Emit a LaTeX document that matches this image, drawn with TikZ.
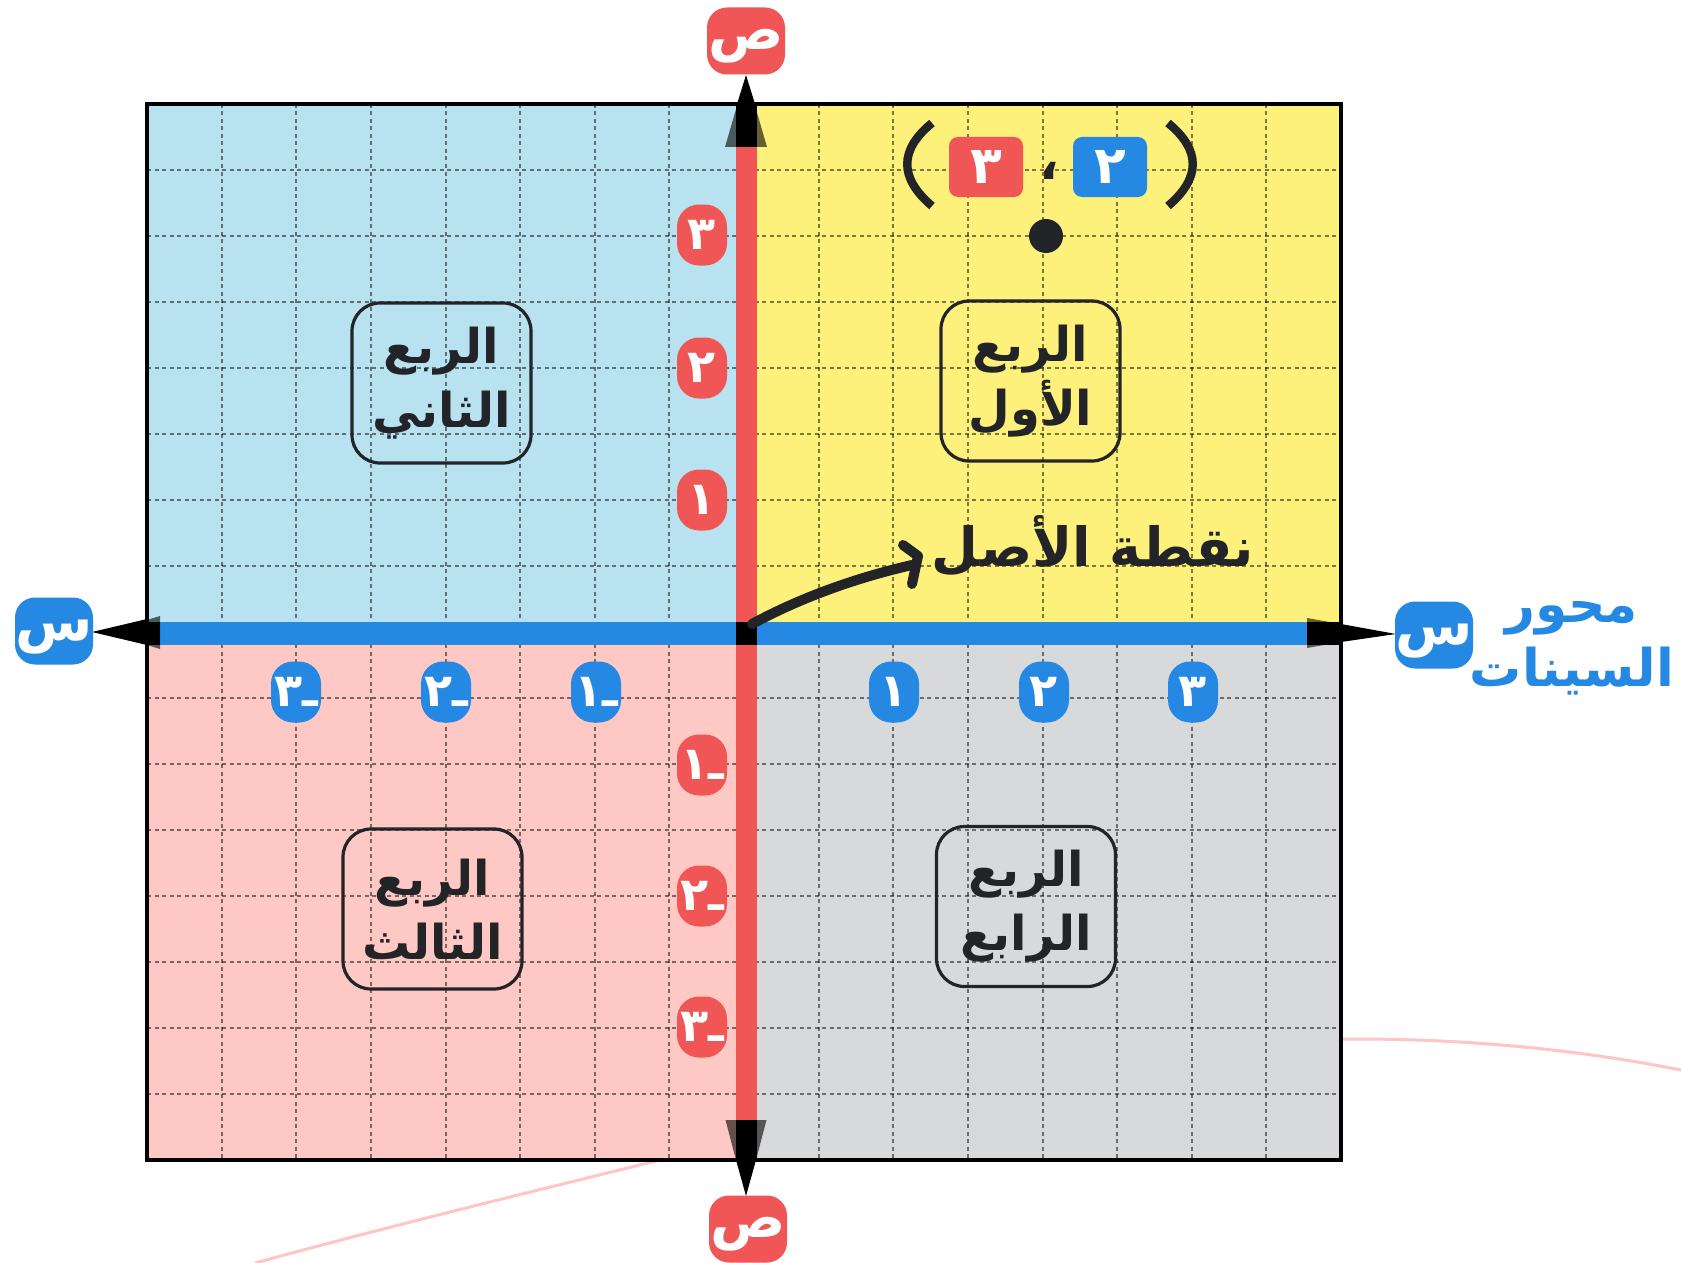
\documentclass[tikz,border=0pt]{standalone}
\usepackage{fontspec}
\usepackage{graphicx}
\newfontfamily\ar[Script=Arabic]{DejaVu Sans}
\TeXXeTstate=1
\definecolor{qone}{HTML}{FDF07B}
\definecolor{qtwo}{HTML}{B8E2EF}
\definecolor{qthree}{HTML}{FEC8C4}
\definecolor{qfour}{HTML}{D8D9DB}
\definecolor{rd}{HTML}{F05656}
\definecolor{bl}{HTML}{2589E3}
\definecolor{dk}{HTML}{222428}
\definecolor{faint}{HTML}{FFC4C4}
\newcommand{\dn}[1]{\raisebox{-2.8pt}[\height][\depth]{#1}}
\begin{document}
\begin{tikzpicture}[x=0.5pt,y=-0.5pt,
  axbadge/.style={rounded corners=10pt, minimum width=39pt, minimum height=33.5pt, inner sep=0pt, text=white, font=\ar\bfseries\fontsize{28}{28}\selectfont},
  tickb/.style={rounded corners=11pt, minimum width=25pt, minimum height=30.5pt, inner sep=0pt, text=white, font=\ar\bfseries\fontsize{23}{23}\selectfont},
  ptbox/.style={rounded corners=4.5pt, minimum width=37pt, minimum height=30pt, inner sep=0pt, text=white, font=\ar\bfseries\fontsize{26}{26}\selectfont},
  qbox/.style={draw=dk, line width=1.6pt, rounded corners=14pt, minimum width=89.5pt, minimum height=80pt, inner sep=0pt, align=center, text=dk, font=\ar\bfseries\fontsize{24}{32}\selectfont},
  gridl/.style={black, opacity=.5, line width=1pt, dash pattern=on 2pt off 1.75pt},
  tipin/.style={fill=black, opacity=.6},
  thick arrow/.style={dk, line width=5pt, line cap=round, line join=round}
]
\useasboundingbox (0,0) rectangle (1681,1263);
% faint background curves
\draw[faint, line width=1.5pt] (255,1263) .. controls (420,1218) and (560,1185) .. (700,1150);
\draw[faint, line width=1.5pt] (1300,1040) .. controls (1450,1035) and (1580,1050) .. (1681,1070);
% quadrants
\fill[qtwo] (147,104) rectangle (746,632);
\fill[qone] (746,104) rectangle (1341,632);
\fill[qthree] (147,632) rectangle (746,1160);
\fill[qfour] (746,632) rectangle (1341,1160);
% grid
\foreach \i in {1,...,7,9,10,...,15}{
  \draw[gridl] ({147+\i*74.625},104) -- ({147+\i*74.625},1160);
  \draw[gridl] (147,{104+\i*66}) -- (1341,{104+\i*66});
}
% axes
\fill[rd] (736,104) rectangle (757,1160);
\fill[bl] (147,622) rectangle (1341,645);
\fill[black] (736,622) rectangle (757,645);
% stems
\fill[black] (736,104) rectangle (757,147);
\fill[black] (736,1120) rectangle (757,1160);
\fill[black] (147,622) rectangle (160,645);
\fill[black] (1307,622) rectangle (1341,645);
% arrow tips (inside frame semi-transparent)
\fill[tipin] (737.5,104) -- (754.5,104) -- (767,147) -- (725,147) -- cycle;
\fill[tipin] (736,1160) -- (756,1160) -- (766.5,1120) -- (725.5,1120) -- cycle;
\fill[tipin] (147,620) -- (147,645) -- (160,649) -- (160,616) -- cycle;
\fill[tipin] (1341,624) -- (1341,642) -- (1307,648) -- (1307,618) -- cycle;
% frame
\draw[black, line width=2pt] (147,104) rectangle (1341,1160);
% arrow tips outside frame
\fill[black] (737,104) -- (755,104) -- (746,75) -- cycle;
\fill[black] (736,1160) -- (756,1160) -- (746,1196) -- cycle;
\fill[black] (147,619) -- (147,645) -- (92,632) -- cycle;
\fill[black] (1341,624) -- (1341,642) -- (1396,634) -- cycle;
% axis badges
\node[axbadge, fill=rd] (ytop) at (746,41) {\dn{ص}};
\node[axbadge, fill=rd] (ybot) at (748,1229) {\dn{ص}};
\node[axbadge, fill=bl] (xleft) at (54,631) {\dn{س}};
\node[axbadge, fill=bl] (xright) at (1434,635) {\dn{س}};
\node[text=bl, align=center, font=\ar\bfseries\fontsize{26}{32}\selectfont] (xname) at (1572,648) {\beginR محور\endR\\\beginR السينات\endR};
% tick badges x
\node[tickb, fill=bl] (xm3) at (296,692) {\beginR ـ٣\endR};
\node[tickb, fill=bl] (xm2) at (446,692) {\beginR ـ٢\endR};
\node[tickb, fill=bl] (xm1) at (596,692) {\beginR ـ١\endR};
\node[tickb, fill=bl] (xp1) at (894,692) {١};
\node[tickb, fill=bl] (xp2) at (1044,692) {٢};
\node[tickb, fill=bl] (xp3) at (1193,692) {٣};
% tick badges y
\node[tickb, fill=rd] (yp3) at (702,235) {٣};
\node[tickb, fill=rd] (yp2) at (702,368) {٢};
\node[tickb, fill=rd] (yp1) at (702,500) {١};
\node[tickb, fill=rd] (ym1) at (702,765) {\beginR ـ١\endR};
\node[tickb, fill=rd] (ym2) at (702,896) {\beginR ـ٢\endR};
\node[tickb, fill=rd] (ym3) at (702,1027) {\beginR ـ٣\endR};
% quadrant boxes
\node[qbox] (q2) at (441.5,383) {\beginR الربع\endR\\\beginR الثاني\endR};
\node[qbox] (q1) at (1030.5,381) {\beginR الربع\endR\\\beginR الأول\endR};
\node[qbox] (q3) at (432.5,909) {\beginR الربع\endR\\\beginR الثالث\endR};
\node[qbox] (q4) at (1026,906.5) {\beginR الربع\endR\\\beginR الرابع\endR};
% point and its coordinates
\node[circle, fill=dk, minimum size=17pt, inner sep=0pt] (pt) at (1046,236) {};
\node[ptbox, fill=rd] (pty) at (986,167) {٣};
\node[text=dk, inner sep=0pt, font=\ar\bfseries\fontsize{26}{26}\selectfont] (comma) at (1049,171) {،};
\node[ptbox, fill=bl] (ptx) at (1110,167) {٢};
\draw[dk, line width=4.2pt] (932,123) .. controls (899,150) and (899,178) .. (932,206);
\draw[dk, line width=4.2pt] (1168,123) .. controls (1201,150) and (1201,178) .. (1168,206);
% origin label and arrow
\node[text=dk, font=\ar\bfseries\fontsize{27}{27}\selectfont] (orig) at (1093,546) {\beginR نقطة الأصل\endR};
\coordinate (arrs) at (752,624);
\coordinate (arre) at (912,565);
\draw[thick arrow] (arrs) .. controls (800,598) and (855,578) .. (arre);
\draw[thick arrow] (903,545) -- (918,556) -- (912,584);
\end{tikzpicture}
\end{document}
